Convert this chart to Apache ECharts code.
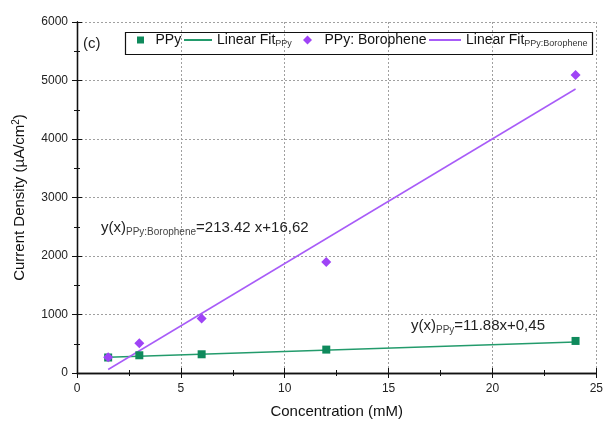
<!DOCTYPE html>
<html>
<head>
<meta charset="utf-8">
<script src="https://cdn.jsdelivr.net/npm/echarts@6/dist/echarts.min.js"></script>
<style>
  html, body { margin: 0; padding: 0; background: #fff; }
  #chart { width: 606px; height: 428px; }
</style>
</head>
<body>
<div id="chart"></div>
<script>
// Concentration (mM) of each measured sample
const concentration = [1.5, 3, 6, 12, 24];
// Current density (µA/cm²) measured for pure PPy
const ppyValues = [265, 303, 320, 400, 548];
// Current density (µA/cm²) measured for PPy: Borophene
const boroValues = [269, 509, 931, 1896, 5092];
// End points of the two linear fits (x in mM, y in µA/cm²)
const fitX = [1.5, 24];
const fitPPy = [268, 532];
const fitBoro = [60, 4855];
// Axis ranges and tick steps
const xTicks = { min: 0, max: 25, step: 5 };
const yTicks = { min: 0, max: 6000, step: 1000 };

const FONT = '"Liberation Sans", Arial, sans-serif';
const GREEN = '#0f8a5c';
const GREEN_LINE = '#239b6c';
const PURPLE = '#9f44f6';
const PURPLE_LINE = '#a85cf8';

const pairs = (xs, ys) => xs.map((x, i) => [x, ys[i]]);

const chart = echarts.init(document.getElementById('chart'), null, { renderer: 'canvas' });

const axisLine = { show: true, lineStyle: { color: '#111', width: 1.3 } };
const tick = { show: true, length: 5, lineStyle: { color: '#111', width: 1 } };
const minor = { show: true, splitNumber: 2, length: 3, lineStyle: { color: '#111', width: 1 } };
const grid = { show: true, lineStyle: { color: '#a0a0a0', type: [2, 2], width: 1 } };

const subRich = {
  m: { fontFamily: FONT, fontSize: 14, color: '#111' },
  s: { fontFamily: FONT, fontSize: 9, color: '#333', padding: [8, 0, 0, 0] }
};

function legendFor(name, left, width, height, icon, hideSymbol) {
  const legend = {
    data: [icon ? { name: name, icon: icon } : name],
    left: left, top: 33, padding: 0,
    itemWidth: width, itemHeight: height,
    symbolKeepAspect: true,
    selectedMode: false,
    formatter: function (n) {
      if (n === 'Linear Fit PPy') return '{m|Linear Fit}{s|PPy}';
      if (n === 'Linear Fit PPy: Borophene') return '{m|Linear Fit}{s|PPy:Borophene}';
      return '{m|' + n + '}';
    },
    textStyle: { fontFamily: FONT, fontSize: 14, color: '#111', rich: subRich }
  };
  // fit lines show only their stroke in the key, no marker
  if (hideSymbol) legend.itemStyle = { opacity: 0, borderWidth: 0 };
  return legend;
}

const option = {
  animation: false,
  backgroundColor: '#fff',
  grid: { left: 77, right: 6, top: 22, bottom: 55, containLabel: false },
  legend: [
    legendFor('PPy', 137, 20, 7, 'path://M0,0 H10 V10 H0 Z'),
    legendFor('Linear Fit PPy', 183, 28, 14, null, true),
    legendFor('PPy: Borophene', 303, 24, 9, 'path://M5,0 L10,5 L5,10 L0,5 Z'),
    legendFor('Linear Fit PPy: Borophene', 428, 32, 14, null, true)
  ],
  xAxis: [
    {
      type: 'value', position: 'bottom',
      min: xTicks.min, max: xTicks.max, interval: xTicks.step,
      axisLine: axisLine, axisTick: tick, minorTick: minor, splitLine: grid,
      axisLabel: { fontFamily: FONT, fontSize: 12, color: '#222', margin: 10 },
      name: 'Concentration (mM)', nameLocation: 'middle', nameGap: 31,
      nameTextStyle: { fontFamily: FONT, fontSize: 15, color: '#111' }
    },
    {
      type: 'value', position: 'top',
      min: xTicks.min, max: xTicks.max, interval: xTicks.step,
      axisLine: axisLine, axisTick: tick, minorTick: minor,
      splitLine: { show: false }, axisLabel: { show: false }
    }
  ],
  yAxis: [
    {
      type: 'value', position: 'left',
      min: yTicks.min, max: yTicks.max, interval: yTicks.step,
      axisLine: axisLine, axisTick: tick, minorTick: minor, splitLine: grid,
      axisLabel: {
        fontFamily: FONT, fontSize: 12, color: '#222', margin: 9,
        formatter: function (v) { return String(v); }
      },
      name: '{a|Current Density (µA/cm}{sup|2}{a|)}',
      nameLocation: 'middle', nameGap: 48,
      nameTextStyle: {
        rich: {
          a: { fontFamily: FONT, fontSize: 15, color: '#111' },
          sup: { fontFamily: FONT, fontSize: 10, color: '#111', padding: [0, 0, 8, 0] }
        }
      }
    },
    {
      type: 'value', position: 'right',
      min: yTicks.min, max: yTicks.max, interval: yTicks.step,
      axisLine: axisLine, axisTick: tick, minorTick: minor,
      splitLine: { show: false }, axisLabel: { show: false }
    }
  ],
  series: [
    {
      name: 'Linear Fit PPy', type: 'line', symbol: 'none', z: 2,
      data: pairs(fitX, fitPPy),
      lineStyle: { color: GREEN_LINE, width: 1.5 }, itemStyle: { color: GREEN_LINE }
    },
    {
      name: 'Linear Fit PPy: Borophene', type: 'line', symbol: 'none', z: 2,
      data: pairs(fitX, fitBoro),
      lineStyle: { color: PURPLE_LINE, width: 1.5 }, itemStyle: { color: PURPLE_LINE }
    },
    {
      name: 'PPy', type: 'scatter', symbol: 'rect', symbolSize: 8, z: 3,
      data: pairs(concentration, ppyValues),
      itemStyle: { color: GREEN, opacity: 1 }
    },
    {
      name: 'PPy: Borophene', type: 'scatter', symbol: 'diamond', symbolSize: 10, z: 3,
      data: pairs(concentration, boroValues),
      itemStyle: { color: PURPLE, opacity: 1 }
    }
  ],
  graphic: [
    {
      type: 'rect', left: 123, top: 30, z: 10,
      shape: { width: 467, height: 22 },
      style: { fill: 'none', stroke: '#111', lineWidth: 1.2 }
    },
    {
      type: 'text', left: 83, top: 36, z: 10,
      style: { text: '(c)', fontFamily: FONT, fontSize: 15, fill: '#222' }
    },
    {
      type: 'text', left: 101, top: 220, z: 10,
      style: {
        text: '{t|y(x)}{s|PPy:Borophene}{t|=213.42 x+16,62}',
        rich: {
          t: { fontFamily: FONT, fontSize: 15, fill: '#222' },
          s: { fontFamily: FONT, fontSize: 10, fill: '#444', padding: [9, 0, 0, 0] }
        }
      }
    },
    {
      type: 'text', left: 411, top: 318, z: 10,
      style: {
        text: '{t|y(x)}{s|PPy}{t|=11.88x+0,45}',
        rich: {
          t: { fontFamily: FONT, fontSize: 15, fill: '#222' },
          s: { fontFamily: FONT, fontSize: 10, fill: '#444', padding: [9, 0, 0, 0] }
        }
      }
    }
  ]
};

chart.setOption(option);
</script>
</body>
</html>
